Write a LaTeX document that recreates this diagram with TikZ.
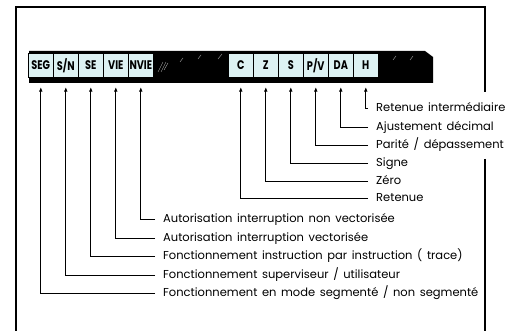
\documentclass[tikz,border=0pt]{standalone}
\usepackage{fontspec}
\setmainfont[WordSpace=1.5]{Poppins}
\newfontfamily\cellfont[FakeStretch=0.78]{Poppins}
\usetikzlibrary{arrows.meta}
\definecolor{cellfill}{HTML}{DDF2F3}
\begin{document}
\begin{tikzpicture}[x=1pt,y=-1pt,
  bit/.style={draw,fill=cellfill,line width=0.6pt,anchor=north west,minimum width=25pt,minimum height=24pt,inner sep=0pt,font=\cellfont\fontsize{12.5}{14}\selectfont\bfseries},
  lab/.style={anchor=west,inner xsep=8pt,inner ysep=0pt,text height=9pt,text depth=2.5pt,font=\fontsize{11.5}{13}\selectfont},
  flag/.style={-{Triangle[length=4pt,width=3.2pt]},line width=0.7pt}]
\useasboundingbox (0,0) rectangle (515,331);
\draw[line width=1.8pt] (16,331) -- (16,7) -- (485,7) -- (485,92);
\draw[line width=1.8pt] (485,159) -- (485,331);
\fill (29,51) -- (425,51) -- (433,57) -- (433,83) -- (29,83) -- cycle;
\draw[gray!70,line width=0.4pt] (158,72)--(163,62) (161,72)--(166,62) (164,70)--(168,63) (180,62)--(183,58) (198,59)--(201,55) (218,59)--(222,54) (393,60)--(396,56) (410,60)--(413,56);
\node[bit] (seg) at (28,53) {SEG};
\node[bit] (sn) at (53,53) {S/N};
\node[bit] (se) at (78,53) {SE};
\node[bit] (vie) at (103,53) {VIE};
\node[bit] (nvie) at (128,53) {NVIE};
\node[bit] (c) at (228,53) {C};
\node[bit] (z) at (253,53) {Z};
\node[bit] (s) at (278,53) {S};
\node[bit] (pv) at (303,53) {P/V};
\node[bit] (da) at (328,53) {DA};
\node[bit] (h) at (353,53) {H};
\node[lab] (lh) at (368,108) {Retenue intermédiaire};
\node[lab] (lda) at (368,127) {Ajustement décimal};
\node[lab] (lpv) at (368,145) {Parité / dépassement};
\node[lab] (ls) at (368,163) {Signe};
\node[lab] (lz) at (368,181) {Zéro};
\node[lab] (lc) at (368,198) {Retenue};
\node[lab] (lnvie) at (155,219) {Autorisation interruption non vectorisée};
\node[lab] (lvie) at (155,238) {Autorisation interruption vectorisée};
\node[lab] (lse) at (155,256) {Fonctionnement instruction par instruction ( trace)};
\node[lab] (lsn) at (155,275) {Fonctionnement superviseur / utilisateur};
\node[lab] (lseg) at (155,293) {Fonctionnement en mode segmenté / non segmenté};
\draw[flag] (lh.west) -| ([yshift=-10pt]h.south);
\draw[flag] (lda.west) -| ([yshift=-10pt]da.south);
\draw[flag] (lpv.west) -| ([yshift=-10pt]pv.south);
\draw[flag] (ls.west) -| ([yshift=-10pt]s.south);
\draw[flag] (lz.west) -| ([yshift=-10pt]z.south);
\draw[flag] (lc.west) -| ([yshift=-10pt]c.south);
\draw[flag] (lnvie.west) -| ([yshift=-10pt]nvie.south);
\draw[flag] (lvie.west) -| ([yshift=-10pt]vie.south);
\draw[flag] (lse.west) -| ([yshift=-10pt]se.south);
\draw[flag] (lsn.west) -| ([yshift=-10pt]sn.south);
\draw[flag] (lseg.west) -| ([yshift=-10pt]seg.south);
\end{tikzpicture}
\end{document}
